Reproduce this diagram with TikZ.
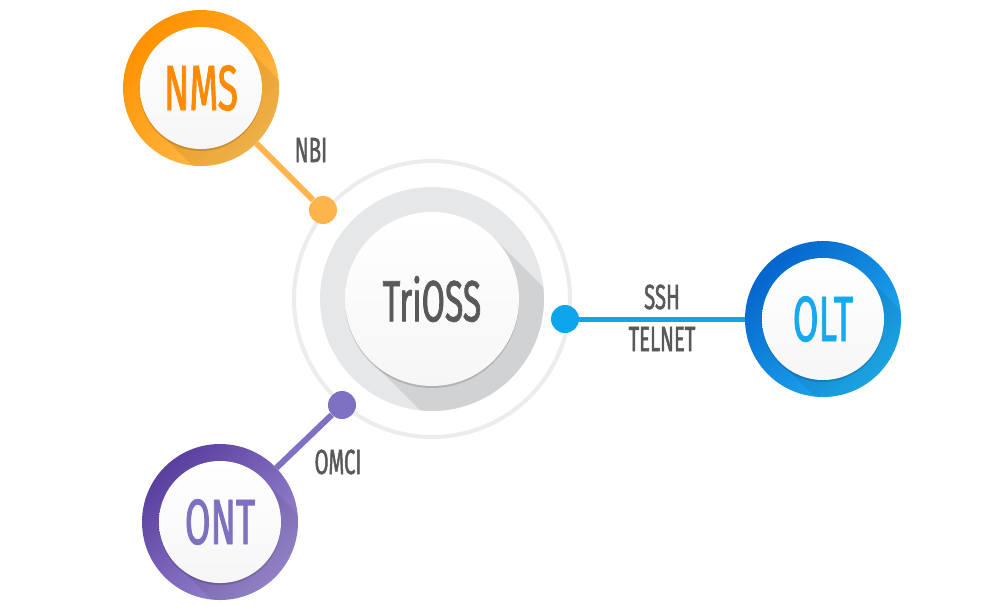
\documentclass[tikz,border=0pt]{standalone}
\usepackage{fontspec}
\setmainfont[FakeStretch=0.58,FakeBold=1.3]{Fira Sans}
\usetikzlibrary{positioning, shadows}
\definecolor{nmsdark}{HTML}{FF9100}
\definecolor{nmslight}{HTML}{FFBE4F}
\definecolor{nmstext}{HTML}{FF8A00}
\definecolor{nmsline}{HTML}{FDB54B}
\definecolor{oltdark}{HTML}{0565CC}
\definecolor{oltlight}{HTML}{1FB0F2}
\definecolor{olttext}{HTML}{18A8EE}
\definecolor{oltline}{HTML}{0BA6EC}
\definecolor{ontdark}{HTML}{5A3F9F}
\definecolor{ontlight}{HTML}{9C8BD2}
\definecolor{onttext}{HTML}{7F70C0}
\definecolor{ontline}{HTML}{7E70C2}
\definecolor{labelgray}{HTML}{58595B}
\definecolor{ringgray}{HTML}{E6E7E9}
\definecolor{outergray}{HTML}{ECECEC}
\tikzset{
  ring/.style 2 args={circle,inner sep=0pt,minimum size=156pt,
    top color=#1,bottom color=#2,shading angle=45},
  face/.style={circle,inner sep=0pt,minimum size=122pt,top color=white,bottom color=gray!7,
    drop shadow={shadow xshift=0pt,shadow yshift=-2pt,fill=black,opacity=.15}},
  dot/.style={circle,inner sep=0pt,minimum size=28pt},
  link/.style={line width=6pt},
  longshadow/.style={fill=black,opacity=.07},
  big/.style={font=\fontsize{64}{70}\selectfont},
  lbl/.style={font=\fontsize{35}{40}\selectfont,text=labelgray}
}

\begin{document}
\begin{tikzpicture}[x=1pt,y=-1pt]
\useasboundingbox[fill=white] (0,0) rectangle (1000,614);

% hub
\node[circle,minimum size=276pt,draw=outergray,line width=4pt] (triouter) at (432,299) {};
\node[circle,minimum size=224pt,fill=ringgray] (trigray) at (432,299) {};
\begin{scope}
  \clip (trigray.center) circle[radius=112pt];
  \fill[black,opacity=.09] ([shift={(61.5,-61.5)}]trigray.center) -- ++(200,200) -- ++(-123,123)
    -- ([shift={(-61.5,61.5)}]trigray.center) -- cycle;
\end{scope}
\node[face,minimum size=174pt,font=\fontsize{58}{66}\selectfont,text=labelgray] (tri) at (432,299) {TriOSS};

% dots and links
\node[dot,fill=nmsline] (nbidot) at (323,210) {};
\node[dot,fill=oltline] (sshdot) at (565,319) {};
\node[dot,fill=ontline] (omcidot) at (342,405) {};

\node[ring={nmsdark}{nmslight}] (nmsring) at (201,88) {};
\node[ring={oltdark}{oltlight}] (oltring) at (823,319) {};
\node[ring={ontdark}{ontlight}] (ontring) at (220,522) {};

\draw[link,nmsline] (nmsring) -- (nbidot);
\draw[link,line width=5pt,oltline] (sshdot) -- (oltring);
\draw[link,ontline] (ontring) -- (omcidot);

% long shadows inside the rings
\foreach \r in {nmsring,oltring,ontring}{
  \begin{scope}
    \clip (\r.center) circle[radius=78pt];
    \fill[longshadow] ([shift={(43,-43)}]\r.center) -- ++(120,120) -- ++(-86,86)
      -- ([shift={(-43,43)}]\r.center) -- cycle;
  \end{scope}
}

\node[face,big,text=nmstext] (nms) at (nmsring) {NMS};
\node[face,big,text=olttext] (olt) at (oltring) {OLT};
\node[face,big,text=onttext] (ont) at (ontring) {ONT};

% labels
\node[lbl] (nbi) at (311,150) {NBI};
\node[lbl] (ssh) at (662,297) {SSH};
\node[lbl,below=26pt of ssh.south,anchor=center] (telnet) {TELNET};
\node[lbl] (omci) at (338,462) {OMCI};
\end{tikzpicture}
\end{document}
